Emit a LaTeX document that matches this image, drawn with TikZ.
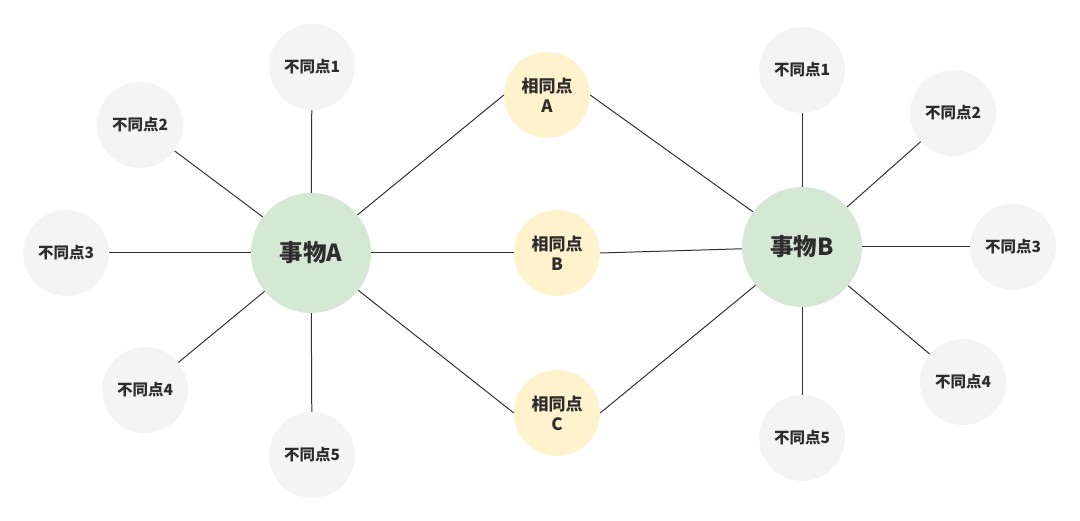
\documentclass[tikz,border=0pt]{standalone}
\usepackage{fontspec}
\newfontfamily\cjk{Noto Sans CJK SC}
\begin{document}
\begin{tikzpicture}[x=1pt,y=-1pt,
  base/.style={circle,draw=none,inner sep=0pt,align=center,text={rgb,255:red,45;green,45;blue,45},font=\cjk\bfseries},
  thing/.style={base,fill={rgb,255:red,213;green,232;blue,212},minimum size=120pt,font=\cjk\bfseries\fontsize{23.5}{28}\selectfont},
  same/.style={base,fill={rgb,255:red,255;green,242;blue,204},minimum size=86pt,font=\cjk\bfseries\fontsize{17}{20}\selectfont},
  diff/.style={base,fill={rgb,255:red,244;green,244;blue,244},minimum size=86pt,font=\cjk\bfseries\fontsize{15.5}{18}\selectfont},
  link/.style={draw={rgb,255:red,51;green,51;blue,51},line width=1pt}]
\useasboundingbox (0,0) rectangle (1080,521);
\node[thing] (A) at (311,253) {事物A};
\node[thing] (B) at (802,247) {事物B};
\node[same] (sA) at (547,95) {相同点\\A};
\node[same] (sB) at (557,253) {相同点\\B};
\node[same] (sC) at (557,413) {相同点\\C};
\node[diff] (a1) at (312,67) {不同点1};
\node[diff] (a2) at (140,125) {不同点2};
\node[diff] (a3) at (66,253) {不同点3};
\node[diff] (a4) at (145,390) {不同点4};
\node[diff] (a5) at (312,455) {不同点5};
\node[diff] (b1) at (802,70) {不同点1};
\node[diff] (b2) at (953,113) {不同点2};
\node[diff] (b3) at (1013,247) {不同点3};
\node[diff] (b4) at (963,382) {不同点4};
\node[diff] (b5) at (802,438) {不同点5};
\foreach \n in {a1,a2,a3,a4,a5} \draw[link] (A) -- (\n);
\foreach \n in {b1,b2,b3,b4,b5} \draw[link] (B) -- (\n);
\foreach \n in {sA,sB,sC} {
  \draw[link] (A) -- (\n.west);
  \draw[link] (\n.east) -- (B);
}
\end{tikzpicture}
\end{document}
